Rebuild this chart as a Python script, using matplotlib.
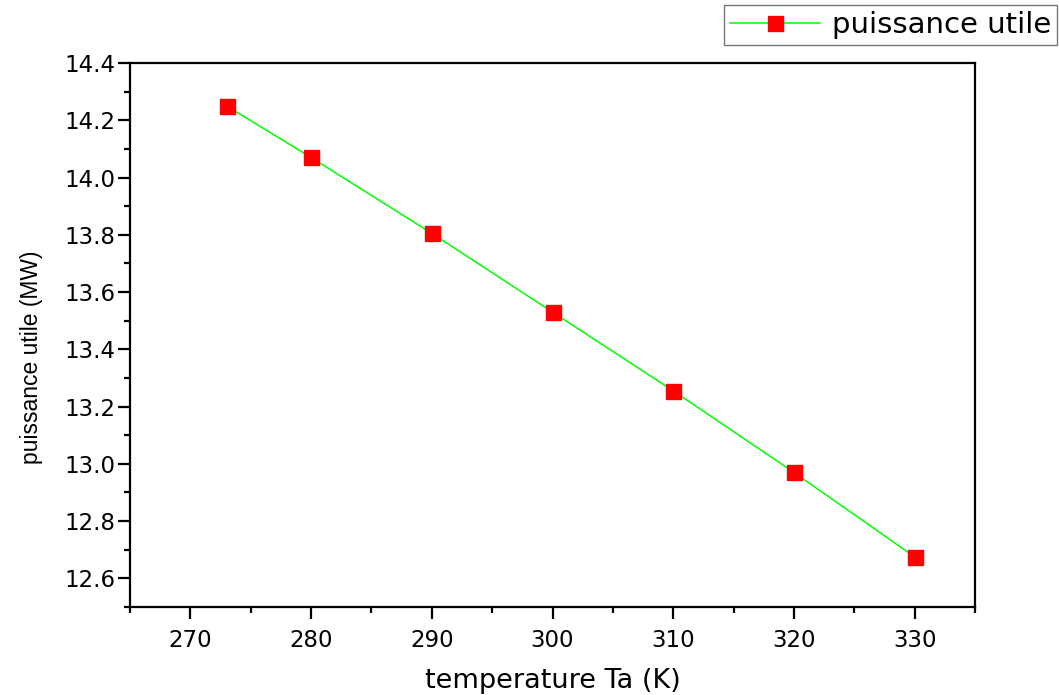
import matplotlib.pyplot as plt
from matplotlib.ticker import MultipleLocator

# data
temperature = [273, 280, 290, 300, 310, 320, 330]
puissance = [14.25, 14.07, 13.805, 13.53, 13.255, 12.97, 12.675]

plt.rcParams['font.family'] = ['DejaVu Sans']

fig = plt.figure(figsize=(10.59, 6.95), dpi=100)
ax = fig.add_axes([130 / 1059, 1 - 607 / 695, 845 / 1059, 544 / 695])

ax.plot(temperature, puissance, color='#00ff00', lw=1.1, marker='s',
        markersize=10.8, markerfacecolor='red', markeredgecolor='red',
        label='puissance utile')

ax.set_xlim(265, 335)
ax.set_ylim(12.5, 14.4)
ax.xaxis.set_major_locator(MultipleLocator(10))
ax.xaxis.set_minor_locator(MultipleLocator(5))
ax.yaxis.set_major_locator(MultipleLocator(0.2))
ax.yaxis.set_minor_locator(MultipleLocator(0.1))
ax.yaxis.set_major_formatter(plt.FormatStrFormatter('%.1f'))

for s in ax.spines.values():
    s.set_linewidth(1.6)
ax.tick_params(which='both', direction='out', width=1.6, top=False, right=False,
               labelsize=16.5)
ax.tick_params(which='major', length=8.5)
ax.tick_params(which='minor', length=4)
ax.tick_params(axis='y', which='major', pad=2)
ax.tick_params(axis='x', which='major', pad=7)

ax.set_xlabel('temperature Ta (K)', fontsize=19.5, labelpad=12)
ax.set_ylabel('puissance utile (MW)', fontsize=16.5, labelpad=15,
              family=['Liberation Sans'])
ax.yaxis.label.set_y(0.46)

leg = ax.legend(loc='upper right', bbox_to_anchor=(1057 / 1059, 1 - 5 / 695),
                bbox_transform=fig.transFigure, fontsize=21, frameon=True,
                fancybox=False, edgecolor='#555555', handlelength=3.1,
                borderpad=0.2, handletextpad=0.4, borderaxespad=0)
leg.get_frame().set_linewidth(1.0)

fig.savefig('out.png', dpi=100)
